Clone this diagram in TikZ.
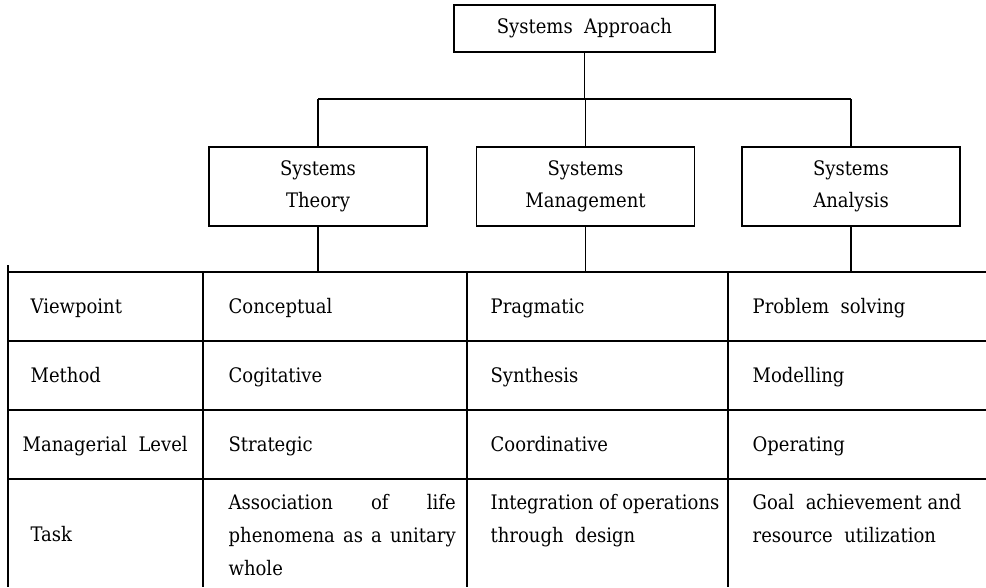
\documentclass[tikz,border=0pt]{standalone}
\usepackage{fontspec}
\setmainfont{DejaVu Serif Condensed}
\begin{document}
\begin{tikzpicture}[x=1pt,y=-1pt, line width=1.3pt,
  every node/.style={font=\fontsize{20}{32}\selectfont},
  box/.style={draw, minimum width=218pt, minimum height=79pt, align=center, inner sep=0pt},
  txt/.style={anchor=base west, inner sep=0pt},
  multi/.style={anchor=north west, inner sep=0pt, align=left, font=\fontsize{20}{33}\selectfont},
  grid/.style={line width=1.3pt}]
\useasboundingbox (0,0) rectangle (986,587);
% top
\node[draw, minimum width=261pt, minimum height=47pt, inner sep=0pt] (top) at (584.5,28.5) {\raisebox{-2pt}{Systems\ \ Approach}};
\node[box] (st) at (318,186.5) {Systems\\Theory};
\node[box] (sm) at (585.5,186.5) {Systems\\Management};
\node[box] (sa) at (851,186.5) {Systems\\Analysis};
\coordinate (bar) at (586,99);
\coordinate (tt) at (0,272);
\draw (top.south) -- (top.south |- bar);
\draw (st.north |- bar) -- (sa.north |- bar);
\foreach \b in {st,sm,sa}{
  \draw (\b.north |- bar) -- (\b.north);
  \draw (\b.south) -- (\b.south |- tt);
}
% table grid
\draw[grid] (8,265) -- (8,587);
\foreach \y in {272,341,410,479}{ \draw[grid] (8,\y) -- (986,\y); }
\foreach \x in {203,467,728}{ \draw[grid] (\x,272) -- (\x,587); }
% header column
\node[txt] (h1) at (30,313) {Viewpoint};
\node[txt] (h2) at (30,382) {Method};
\node[txt] (h3) at (22,451) {Managerial\ \ Level};
\node[txt] (h4) at (30,541) {Task};
% column 2
\node[txt] (c21) at (228,313) {Conceptual};
\node[txt] (c22) at (228,382) {Cogitative};
\node[txt] (c23) at (228,451) {Strategic};
\node[multi] (c24) at (228,494)
  {\hbox to 227pt{Association\hfil of\hfil life}\\\hbox to 227pt{phenomena\hfil as\hfil a\hfil unitary}\\whole};
% column 3
\node[txt] (c31) at (490,313) {Pragmatic};
\node[txt] (c32) at (490,382) {Synthesis};
\node[txt] (c33) at (490,451) {Coordinative};
\node[multi] (c34) at (490,494)
  {Integration of operations\\through\ \ design};
% column 4
\node[txt] (c41) at (752,313) {Problem\ \ solving};
\node[txt] (c42) at (752,382) {Modelling};
\node[txt] (c43) at (752,451) {Operating};
\node[multi] (c44) at (752,494)
  {Goal\ \ achievement and\\resource\ \ utilization};
\end{tikzpicture}
\end{document}
